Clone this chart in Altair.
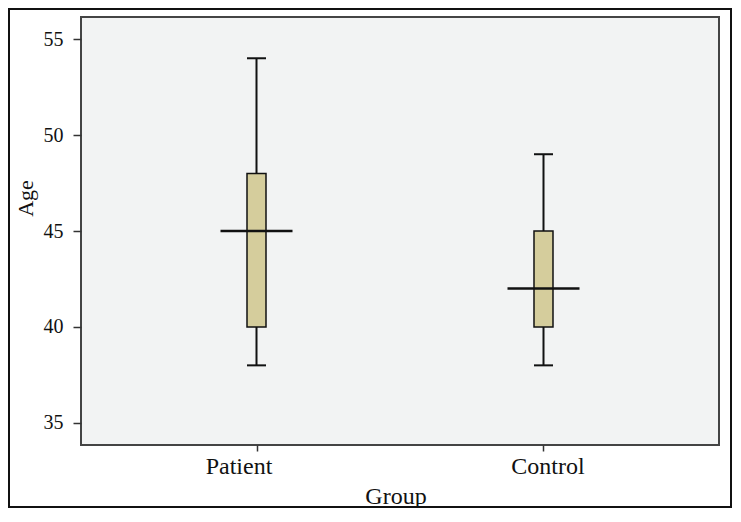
import altair as alt
import pandas as pd

groups = ["Patient", "Control"]
whisker_low = [38, 38]
q1 = [40, 40]
median = [45, 42]
q3 = [48, 45]
whisker_high = [54, 49]
y_ticks = [35, 40, 45, 50, 55]

df = pd.DataFrame({
    "Group": groups,
    "low": whisker_low,
    "q1": q1,
    "median": median,
    "q3": q3,
    "high": whisker_high,
})

FONT = "Liberation Serif"
INK = "#111111"

xscale = alt.Scale(type="point", domain=groups, padding=0.6115)
yscale = alt.Scale(domain=[33.85, 56.15], nice=False, zero=False)

xaxis = alt.Axis(
    title="Group", labelAngle=0, tickSize=6, tickWidth=1.5, tickColor="#333333",
    domain=False, grid=False,
    labelFont=FONT, labelFontSize=24, labelColor=INK,
    labelBaseline="alphabetic", labelPadding=22,
    labelOffset={"condition": {"test": "datum.value === 'Patient'", "value": -18}, "value": 4},
    titleFont=FONT, titleFontSize=24, titleFontWeight="normal", titleColor=INK,
    titleX=314.5, titleY=58, titleBaseline="alphabetic", titleAlign="center",
)
yaxis = alt.Axis(
    title="Age", values=y_ticks, tickSize=8, tickWidth=1.5, tickColor="#333333",
    domain=False, grid=False,
    labelFont=FONT, labelFontSize=20, labelColor=INK, labelPadding=10,
    titleFont=FONT, titleFontSize=22, titleFontWeight="normal", titleColor=INK,
    titleX=-49, titleY=181, titleBaseline="alphabetic", titleAlign="center", titleAngle=270,
)

x = alt.X("Group:N", scale=xscale, sort=groups, axis=xaxis)

base = alt.Chart(df).encode(x=x)

whisker = base.mark_rule(color=INK, strokeWidth=2).encode(
    y=alt.Y("low:Q", scale=yscale, axis=yaxis), y2="high:Q"
)
cap_low = base.mark_tick(color=INK, size=19, thickness=2, opacity=1).encode(y=alt.Y("low:Q", scale=yscale))
cap_high = base.mark_tick(color=INK, size=19, thickness=2, opacity=1).encode(y=alt.Y("high:Q", scale=yscale))
box = base.mark_bar(size=19, fill="#d5cd9c", stroke=INK, strokeWidth=1.5).encode(
    y=alt.Y("q1:Q", scale=yscale), y2="q3:Q"
)
med = base.mark_tick(color=INK, size=72, thickness=2.5, opacity=1).encode(y=alt.Y("median:Q", scale=yscale))

frame = alt.Chart(pd.DataFrame({"f": [0]})).mark_rect(
    fillOpacity=0, stroke=INK, strokeWidth=2
).encode(
    x=alt.value(-72), x2=alt.value(650), y=alt.value(-8), y2=alt.value(490)
)

chart = alt.layer(whisker, box, cap_low, cap_high, med, frame).properties(
    width=638, height=428,
    autosize=alt.AutoSizeParams(type="none"),
    padding={"left": 73, "top": 9, "right": 13, "bottom": 63},
    background="white",
).configure_view(
    fill="#f2f3f3", stroke="#444444", strokeWidth=2
)

chart.save("out.html", embed_options={"renderer": "svg", "actions": False})
